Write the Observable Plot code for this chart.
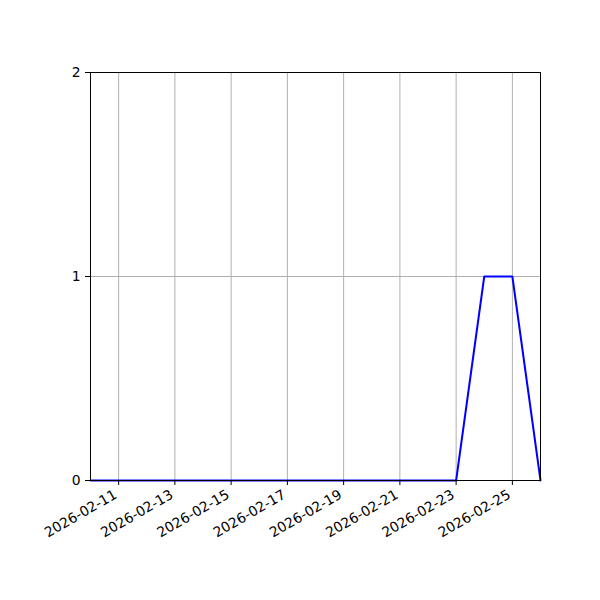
<!DOCTYPE html>
<html>
<head>
<meta charset="utf-8">
<script src="https://cdn.jsdelivr.net/npm/d3@7"></script>
<script src="https://cdn.jsdelivr.net/npm/@observablehq/plot@0.6"></script>
<style>
body { margin: 0; background: #fff; }
</style>
</head>
<body>
<div id="chart"></div>
<script>
const dates = ["2026-02-10","2026-02-11","2026-02-12","2026-02-13","2026-02-14","2026-02-15","2026-02-16","2026-02-17","2026-02-18","2026-02-19","2026-02-20","2026-02-21","2026-02-22","2026-02-23","2026-02-24","2026-02-25","2026-02-26"];
const values = [0,0,0,0,0,0,0,0,0,0,0,0,0,0,1,1,0];
const xTicks = ["2026-02-11","2026-02-13","2026-02-15","2026-02-17","2026-02-19","2026-02-21","2026-02-23","2026-02-25"];
const yTicks = [0, 1, 2];

const data = dates.map((d, i) => ({date: new Date(d + "T00:00:00Z"), value: values[i]}));
const xt = xTicks.map(d => new Date(d + "T00:00:00Z"));
const fmt = d3.utcFormat("%Y-%m-%d");

const chart = Plot.plot({
  width: 600,
  height: 600,
  marginLeft: 90,
  marginRight: 60,
  marginTop: 72,
  marginBottom: 120,
  style: {fontFamily: "DejaVu Sans", fontSize: "13.9px", background: "#fff", color: "#000"},
  x: {type: "utc", domain: [data[0].date, data[data.length - 1].date]},
  y: {domain: [0, 2]},
  marks: [
    Plot.gridX(xt, {stroke: "#b0b0b0", strokeOpacity: 1, strokeWidth: 1}),
    Plot.gridY(yTicks, {stroke: "#b0b0b0", strokeOpacity: 1, strokeWidth: 1}),
    Plot.line(data, {x: "date", y: "value", stroke: "#0000ff", strokeWidth: 2}),
    Plot.frame({stroke: "#000", strokeWidth: 1}),
    Plot.axisX(xt, {tickSize: 5, tickFormat: () => "", label: null, stroke: "#000"}),
    Plot.axisX(xt, {tickSize: 0, tickPadding: 9, tickRotate: -30, textAnchor: "end", tickFormat: fmt, label: null, fill: "#000", fontSize: 13.9, dy: 4, dx: -3}),
    Plot.axisY(yTicks, {tickSize: 5, tickPadding: 5, tickFormat: d => String(d), label: null, stroke: "#000", fill: "#000", fontSize: 13.9})
  ]
});
document.getElementById("chart").appendChild(chart);
</script>
</body>
</html>
